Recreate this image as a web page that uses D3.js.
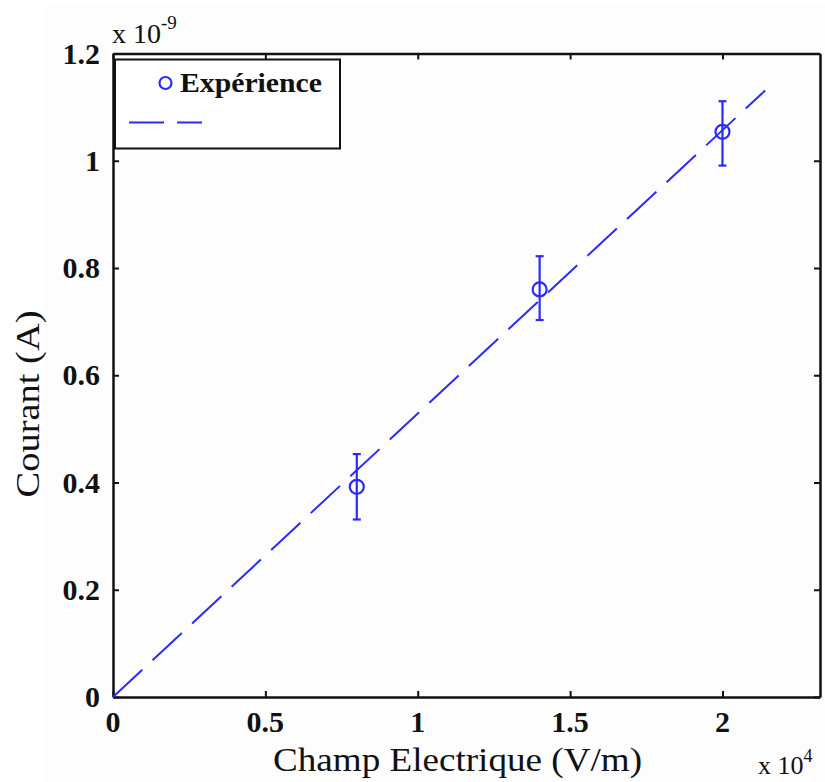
<!DOCTYPE html>
<html><head><meta charset="utf-8">
<script src="https://cdn.jsdelivr.net/npm/d3@7"></script>
<style>body{margin:0;background:#fff}svg{display:block}text{font-family:"Liberation Serif",serif}</style>
</head><body>
<svg id="c" width="825" height="782"></svg>
<script>
// Data (x in units of 1e4 V/m, y in units of 1e-9 A)
const fieldE = [0.8, 1.4, 2.0];
const current = [0.392, 0.760, 1.054];
const errLow = [0.331, 0.703, 0.991];
const errHigh = [0.453, 0.822, 1.111];
const fitX = [0, 2.14];
const fitY = [0, 1.131];
const xTicks = [0, 0.5, 1, 1.5, 2];
const xTickLabels = ["0", "0.5", "1", "1.5", "2"];
const yTicks = [0, 0.2, 0.4, 0.6, 0.8, 1, 1.2];
const yTickLabels = ["0", "0.2", "0.4", "0.6", "0.8", "1", "1.2"];

const svg = d3.select("#c");
const L = 113, R = 820, T = 53.5, B = 697;
const x = d3.scaleLinear().domain([0, 2.32]).range([L, R]);
const y = d3.scaleLinear().domain([0, 1.2]).range([B, T]);
const blue = "#2a2aff";

// faint background panel
svg.append("rect").attr("x", 44).attr("y", 5).attr("width", 781).attr("height", 777).attr("fill", "#fdfdfd");

// Axes with inward ticks
const xAxisB = d3.axisBottom(x).tickValues(xTicks).tickSize(-6).tickSizeOuter(0).tickFormat("");
const xAxisT = d3.axisTop(x).tickValues(xTicks).tickSize(-6).tickSizeOuter(0).tickFormat("");
const yAxisL = d3.axisLeft(y).tickValues(yTicks).tickSize(-6).tickSizeOuter(0).tickFormat("");
const yAxisR = d3.axisRight(y).tickValues(yTicks).tickSize(-6).tickSizeOuter(0).tickFormat("");
function style(g){ g.selectAll("path,line").attr("stroke","#111").attr("stroke-width",2); g.select(".domain").attr("stroke-width",2.5); }
svg.append("g").attr("transform",`translate(0,${B})`).call(xAxisB).call(style);
svg.append("g").attr("transform",`translate(0,${T})`).call(xAxisT).call(style);
svg.append("g").attr("transform",`translate(${L},0)`).call(yAxisL).call(style);
svg.append("g").attr("transform",`translate(${R},0)`).call(yAxisR).call(style);

// Tick labels
svg.append("g").selectAll("text").data(xTicks).join("text")
  .attr("x", d => x(d)).attr("y", 732).attr("text-anchor","middle")
  .attr("font-size", 30).attr("font-weight","bold").attr("fill","#111")
  .text((d,i) => xTickLabels[i]);
svg.append("g").selectAll("text").data(yTicks).join("text")
  .attr("x", 100).attr("y", d => y(d) + 10).attr("text-anchor","end")
  .attr("font-size", 30).attr("font-weight","bold").attr("fill","#111")
  .text((d,i) => yTickLabels[i]);

// Exponent labels
const e1 = svg.append("text").attr("x",112).attr("y",43).attr("font-size",28).attr("fill","#111");
e1.append("tspan").text("x 10");
e1.append("tspan").attr("dy",-14).attr("font-size",19).text("-9");
const e2 = svg.append("text").attr("x",758).attr("y",774).attr("font-size",26).attr("fill","#111");
e2.append("tspan").text("x 10");
e2.append("tspan").attr("dy",-12).attr("font-size",18).text("4");

// Axis titles
svg.append("text").attr("x",273).attr("y",771).attr("font-size",33)
  .attr("textLength",369).attr("lengthAdjust","spacingAndGlyphs").attr("fill","#111")
  .text("Champ Electrique (V/m)");
svg.append("text").attr("transform","translate(39,404) rotate(-90)").attr("text-anchor","middle")
  .attr("font-size",33).attr("textLength",187).attr("lengthAdjust","spacingAndGlyphs").attr("fill","#111")
  .text("Courant (A)");

// Fit line
const fit = fitX.map((v,i)=>[v, fitY[i]]);
svg.append("path").datum(fit)
  .attr("d", d3.line().x(d=>x(d[0])).y(d=>y(d[1])))
  .attr("fill","none").attr("stroke",blue).attr("stroke-width",2).attr("stroke-dasharray","40,14");

// Error bars and markers
const pts = fieldE.map((v,i)=>({x:v, y:current[i], lo:errLow[i], hi:errHigh[i]}));
const eg = svg.append("g").attr("stroke",blue).attr("stroke-width",2.2).attr("fill","none");
eg.selectAll(".v").data(pts).join("line").attr("x1",d=>x(d.x)).attr("x2",d=>x(d.x)).attr("y1",d=>y(d.lo)).attr("y2",d=>y(d.hi));
eg.selectAll(".cl").data(pts).join("line").attr("x1",d=>x(d.x)-4).attr("x2",d=>x(d.x)+4).attr("y1",d=>y(d.lo)).attr("y2",d=>y(d.lo));
eg.selectAll(".ch").data(pts).join("line").attr("x1",d=>x(d.x)-4).attr("x2",d=>x(d.x)+4).attr("y1",d=>y(d.hi)).attr("y2",d=>y(d.hi));
eg.selectAll("circle").data(pts).join("circle").attr("cx",d=>x(d.x)).attr("cy",d=>y(d.y)).attr("r",7);

// Legend
svg.append("rect").attr("x",115).attr("y",59.5).attr("width",225).attr("height",89)
  .attr("fill","#fff").attr("stroke","#111").attr("stroke-width",2);
svg.append("circle").attr("cx",165.5).attr("cy",83).attr("r",6).attr("fill","none").attr("stroke",blue).attr("stroke-width",2.2);
svg.append("text").attr("x",180).attr("y",92).attr("font-size",28).attr("font-weight","bold").attr("fill","#111")
  .attr("textLength",142).attr("lengthAdjust","spacingAndGlyphs").text("Expérience");
svg.append("line").attr("x1",129).attr("x2",202).attr("y1",122.5).attr("y2",122.5)
  .attr("stroke",blue).attr("stroke-width",2).attr("stroke-dasharray","35,13");
</script>
</body></html>
